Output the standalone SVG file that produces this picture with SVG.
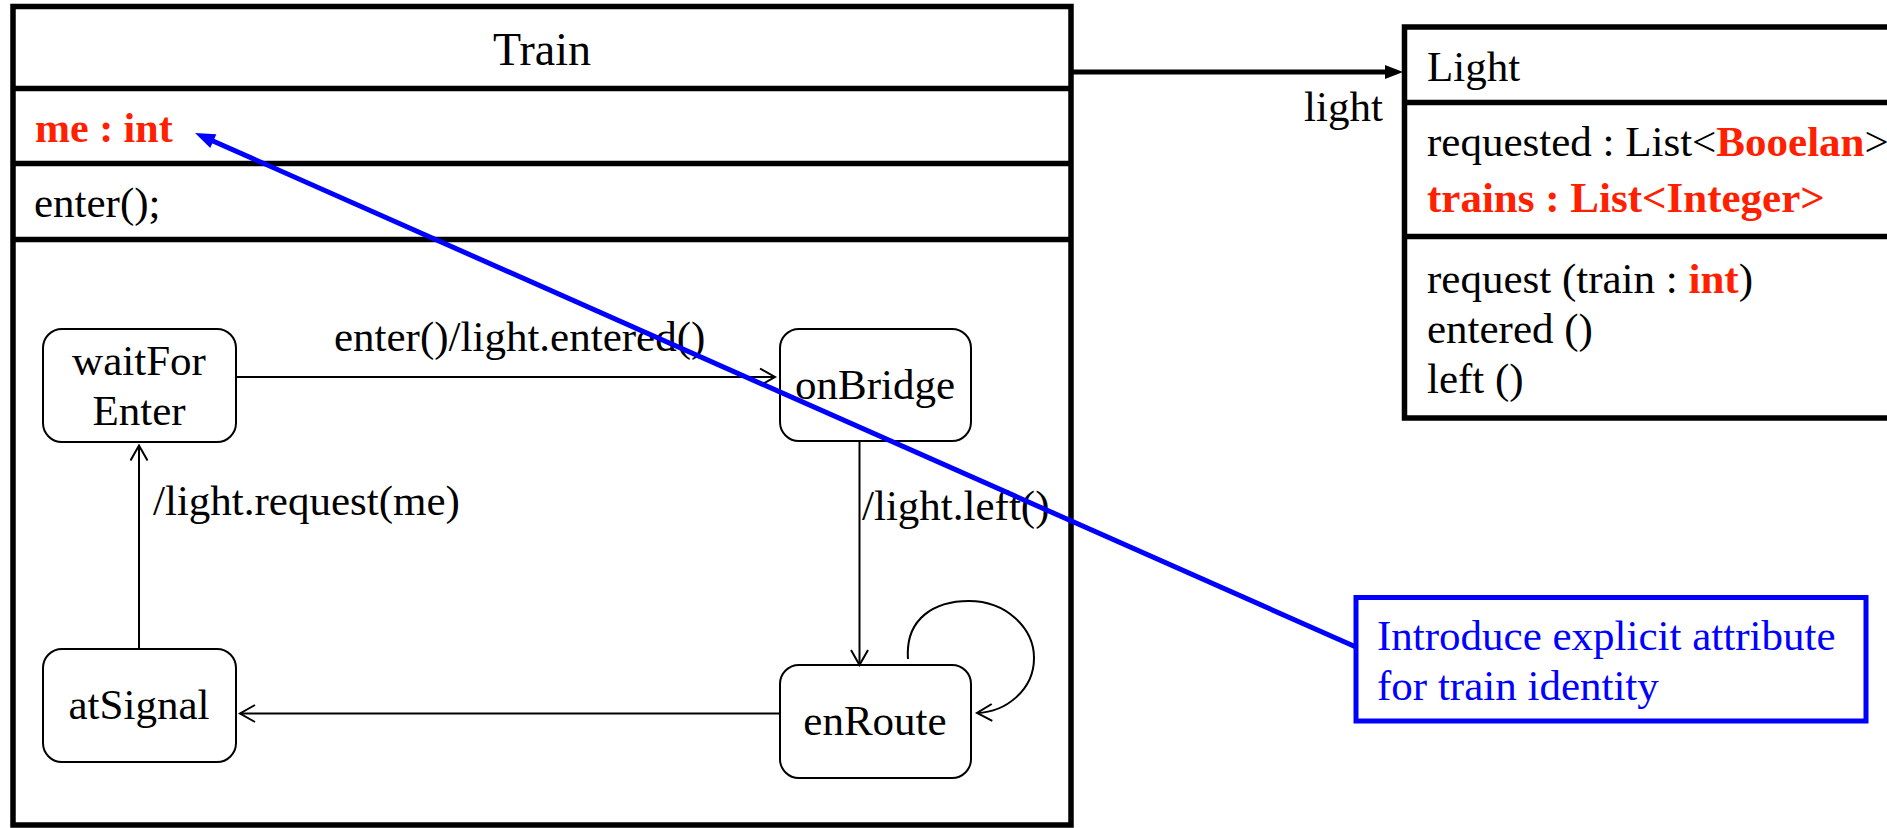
<svg xmlns="http://www.w3.org/2000/svg" width="1887" height="828" viewBox="0 0 1887 828">
<defs>
<style>
text{font-family:"Liberation Serif","Times New Roman",serif;font-size:43px;fill:#000}
.c{text-anchor:middle}
.red{fill:#ff2000;font-weight:bold}
.blue{fill:#0000ff}
.box{fill:#fff;stroke:#000;stroke-width:5.5}
.sep{stroke:#000;stroke-width:5.5}
.state{fill:#fff;stroke:#000;stroke-width:2}
.tr{fill:none;stroke:#000;stroke-width:2}
</style>
<marker id="open" markerUnits="userSpaceOnUse" viewBox="0 0 16 18" markerWidth="16" markerHeight="18" refX="15" refY="9" orient="auto" overflow="visible">
<path d="M0,0.5 L15,9 L0,17.5" fill="none" stroke="#000" stroke-width="2"/>
</marker>
<marker id="solid" markerUnits="userSpaceOnUse" viewBox="0 -8 20 16" markerWidth="20" markerHeight="16" refX="0" refY="0" orient="auto" overflow="visible">
<path d="M-1,-7 L17,0 L-1,7 z" fill="#000"/>
</marker>
<marker id="blueArrow" markerUnits="userSpaceOnUse" viewBox="0 -8 20 16" markerWidth="20" markerHeight="16" refX="0" refY="0" orient="auto" overflow="visible">
<path d="M-1,-7.5 L19,0 L-1,7.5 z" fill="#0000ff"/>
</marker>
</defs>
<rect width="1887" height="828" fill="#fff"/>

<g id="train">
<rect class="box" x="13" y="6.5" width="1058" height="818.5"/>
<line class="sep" x1="13" y1="88.5" x2="1071" y2="88.5"/>
<line class="sep" x1="13" y1="163.5" x2="1071" y2="163.5"/>
<line class="sep" x1="13" y1="239.5" x2="1071" y2="239.5"/>
<text class="c" x="542" y="65" style="font-size:46px">Train</text>
<text class="red" x="35" y="142" style="font-size:42px">me : int</text>
<text x="34" y="217">enter();</text>
</g>

<g id="light">
<rect class="box" x="1404.5" y="27" width="600" height="391"/>
<line class="sep" x1="1404.5" y1="102.5" x2="1900" y2="102.5"/>
<line class="sep" x1="1404.5" y1="236.5" x2="1900" y2="236.5"/>
<text x="1427" y="81">Light</text>
<text x="1427" y="156">requested : List&lt;<tspan class="red">Booelan</tspan>&gt;</text>
<text x="1427" y="212" class="red">trains : List&lt;Integer&gt;</text>
<text x="1427" y="293">request (train : <tspan class="red">int</tspan>)</text>
<text x="1427" y="343">entered ()</text>
<text x="1427" y="393">left ()</text>
</g>

<g id="waitForEnter">
<rect class="state" x="43" y="329" width="193" height="113" rx="19"/>
<text class="c" x="139" y="375">waitFor</text>
<text class="c" x="139" y="425">Enter</text>
</g>
<g id="onBridge">
<rect class="state" x="780" y="329" width="191" height="112" rx="19"/>
<text class="c" x="875" y="399">onBridge</text>
</g>
<g id="atSignal">
<rect class="state" x="43" y="649" width="193" height="113" rx="19"/>
<text class="c" x="139" y="719">atSignal</text>
</g>
<g id="enRoute">
<rect class="state" x="780" y="665" width="191" height="113" rx="19"/>
<text class="c" x="875" y="735">enRoute</text>
</g>

<g id="connectors">
<path class="tr" d="M236,377 H775" marker-end="url(#open)"/>
<path class="tr" d="M859.5,442 V665" marker-end="url(#open)"/>
<path class="tr" d="M780,713.5 H240" marker-end="url(#open)"/>
<path class="tr" d="M139,649 V445.5" marker-end="url(#open)"/>
<path class="tr" d="M908,659 C905,618 935,601 969,601 C1006,601 1034,628 1034,658 C1034,690 1006,712 977,713" marker-end="url(#open)"/>
<text x="334" y="351">enter()/light.entered()</text>
<text x="862" y="520">/light.left()</text>
<text x="153" y="515">/light.request(me)</text>
<line x1="1071" y1="72" x2="1386" y2="72" stroke="#000" stroke-width="5" marker-end="url(#solid)"/>
<text x="1304" y="121">light</text>
</g>

<g id="note">
<rect x="1356" y="597.5" width="510" height="123.5" fill="#fff" stroke="#0000ff" stroke-width="5"/>
<text class="blue" x="1377" y="650">Introduce explicit attribute</text>
<text class="blue" x="1377" y="700">for train identity</text>
</g>
<g id="note-connector">
<line x1="1356" y1="647" x2="212.4" y2="140.7" stroke="#0000ff" stroke-width="5" marker-end="url(#blueArrow)"/>
</g>
</svg>
